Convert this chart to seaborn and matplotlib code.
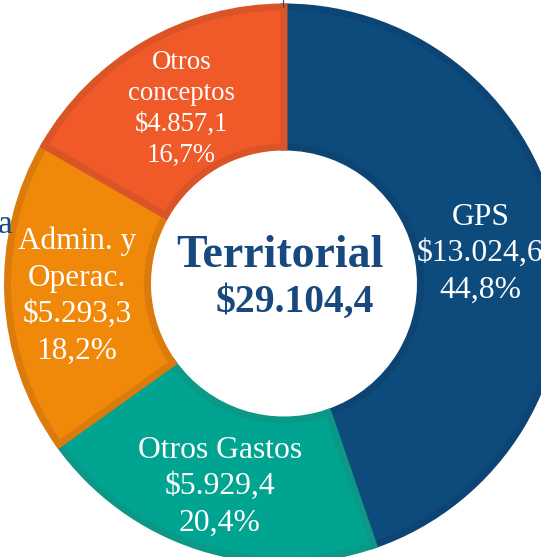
import matplotlib
matplotlib.use("Agg")
import matplotlib.pyplot as plt
import seaborn as sns
import numpy as np

# ---------------- data ----------------
categories = ["GPS", "Otros Gastos", "Admin. y\nOperac.", "Otros\nconceptos"]
values = [13024.6, 5929.4, 5293.3, 4857.1]
value_labels = ["$13.024,6", "$5.929,4", "$5.293,3", "$4.857,1"]
pct_labels = ["44,8%", "20,4%", "18,2%", "16,7%"]
center_title = "Territorial"
center_total = "$29.104,4"
cut_label = "a"

# ---------------- style ----------------
sns.set_theme(style="white")
plt.rcParams["font.family"] = ["Liberation Serif", "DejaVu Serif"]

fill_colors = ["#0E4B7D", "#00A491", "#F0890A", "#F05A28"]
edge_colors = ["#0C4473", "#0B9886", "#DA7B0C", "#DB5427"]
label_r = [0.72, 0.76, 0.75, 0.74]
label_fs = [22.8, 22.8, 22.5, 19.3]
line_step_px = [36.5, 36.5, 36.5, 31]
title_color = "#17497F"

W, H = 541, 557
cx, cy = 284.0, 283.5        # ring centre in pixels (y from top)
R = 276.5                    # outer radius in pixels
ring_width = 1 - 136.5 / R

fig = plt.figure(figsize=(W / 100, H / 100), dpi=100)
ax = fig.add_axes([0, 0, 1, 1])

wedges, _ = ax.pie(values, colors=fill_colors, startangle=90, counterclock=False,
                   radius=1, wedgeprops=dict(width=ring_width))
for w, ec in zip(wedges, edge_colors):
    w.set_edgecolor(ec)
    w.set_linewidth(7 * 72 / 100)
    w.set_clip_path(w)

def px2data(px, py):
    return (px - cx) / R, (cy - py) / R

# slice labels
total = sum(values)
cum = 0.0
for i, v in enumerate(values):
    mid = np.deg2rad(90 - 360 * (cum + v / 2) / total)
    cum += v
    xc = label_r[i] * np.cos(mid)
    yc = label_r[i] * np.sin(mid)
    lines = categories[i].split("\n") + [value_labels[i], pct_labels[i]]
    n = len(lines)
    fpx = label_fs[i] * 100 / 72
    for k, line in enumerate(lines):
        off_px = (k - (n - 1) / 2) * line_step_px[i] + 0.33 * fpx
        ax.text(xc, yc - off_px / R, line, ha="center", va="baseline",
                color="white", fontsize=label_fs[i])

# centre text
x, y = px2data(280, 267)
ax.text(x, y, center_title, ha="center", va="baseline", fontsize=33,
        fontweight="bold", color=title_color)
x, y = px2data(295, 312)
ax.text(x, y, center_total, ha="center", va="baseline", fontsize=28.5,
        fontweight="bold", color=title_color)

# cut-off outside label fragment and leader line
x, y = px2data(13, 233)
ax.text(x, y, cut_label, ha="right", va="baseline", fontsize=24, color=title_color)
x0, y0 = px2data(283, 0)
x1, y1 = px2data(283, 7)
ax.plot([x0, x1], [y0, y1], color="#1F4E79", lw=0.8)

ax.set_xlim(-cx / R, (W - cx) / R)
ax.set_ylim(-(H - cy) / R, cy / R)
ax.set_aspect("auto")
ax.axis("off")

fig.savefig("out.png", dpi=100, facecolor="white")
